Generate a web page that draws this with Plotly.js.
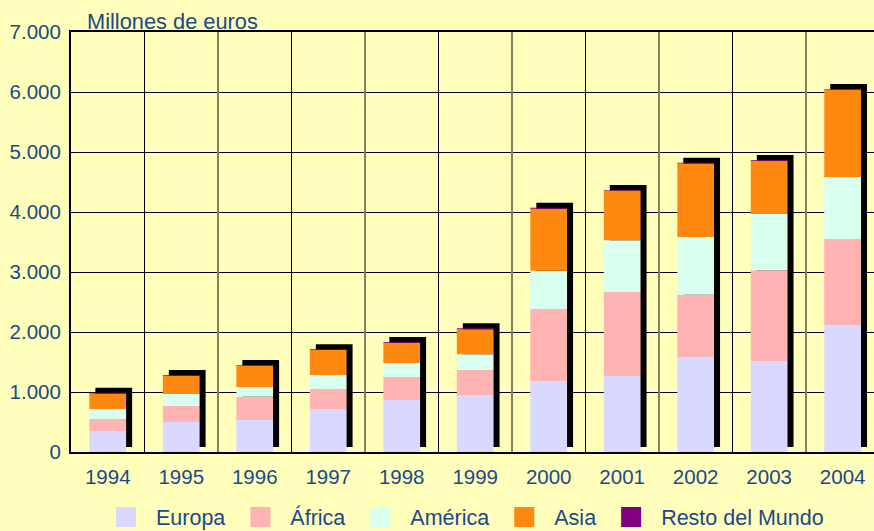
<!DOCTYPE html>
<html>
<head>
<meta charset="utf-8">
<script src="https://cdn.plot.ly/plotly-3.0.1.min.js"></script>
<style>
html,body{margin:0;padding:0;overflow:hidden;background:#FFFFBB;}
#chart{width:874px;height:531px;}
</style>
</head>
<body>
<div id="chart"></div>
<script>
// ---- data (millones de euros) ----
const years   = ['1994','1995','1996','1997','1998','1999','2000','2001','2002','2003','2004'];
const europa  = [350, 500, 535, 715, 865, 950, 1185, 1265, 1585, 1515, 2115];
const africa  = [200, 265, 385, 335, 385, 415, 1200, 1400, 1035, 1515, 1435];
const america = [165, 200, 165, 235, 235, 265,  635,  865,  965,  935, 1035];
const asia    = [260, 305, 355, 415, 335, 415, 1035,  830, 1225,  890, 1455];
const resto   = [ 12,  12,  12,  12,  15,  17,   17,    8,   12,   12,   12];
const seriesNames = ['Europa', 'África', 'América', 'Asia', 'Resto del Mundo'];

// ---- styling ----
const colors = ['#D9D9FF', '#FFB3B3', '#D9FFEE', '#FF8811', '#800080'];
const textColor = '#1A4A88';
const bg = '#FFFFBB';
const font = 'Liberation Sans, Arial, sans-serif';

const W = 874, H = 531;
const mL = 71, mR = 0, mT = 32, mB = 79;
const plotW = W - mL - mR, plotH = H - mT - mB;
const catPx = 73.49;                       // pixel width of one category
const xRange = [-0.5, -0.5 + plotW / catPx];
const yRange = [0, 7000];
const barW = 0.5;
const shadowDx = 6 / catPx;                         // 6 px right
const shadowDy = 5 * (yRange[1] - yRange[0]) / plotH; // 5 px up

const idx = years.map((_, i) => i);
const allSeries = [europa, africa, america, asia, resto];
const totals = idx.map(i => allSeries.reduce((s, arr) => s + arr[i], 0));

const traces = [];
// shadow behind each column
traces.push({
  type: 'bar', x: idx, y: totals, base: idx.map(() => shadowDy),
  width: barW, offset: -barW / 2 + shadowDx,
  marker: {color: '#000000', line: {width: 0}},
  showlegend: false, hoverinfo: 'skip'
});
// stacked segments
let cum = idx.map(() => 0);
allSeries.forEach((vals, k) => {
  traces.push({
    type: 'bar', x: idx, y: vals, base: cum.slice(),
    width: barW, name: seriesNames[k],
    marker: {color: colors[k], line: {width: 0}},
    showlegend: false
  });
  cum = cum.map((c, i) => c + vals[i]);
});
// legend entries
seriesNames.forEach((n, k) => {
  traces.push({
    type: 'scatter', mode: 'markers', x: [null], y: [null], name: n,
    xaxis: 'x2',
    marker: {symbol: 'square', size: 16, color: colors[k], line: {color: colors[k], width: 4}}
  });
});

const blackB = idx.filter(i => i % 2 === 0 && i < years.length - 1).map(i => i + 0.5);
const greyB  = idx.filter(i => i % 2 === 1).map(i => i + 0.5);

const layout = {
  width: W, height: H,
  margin: {l: mL, r: mR, t: mT, b: mB, pad: 0, autoexpand: false},
  paper_bgcolor: bg, plot_bgcolor: bg,
  barmode: 'overlay',
  separators: ',.',
  font: {family: font, size: 20.5, color: textColor},
  title: {
    text: 'Millones de euros',
    font: {family: font, size: 21.8, color: textColor},
    x: 87 / W, xref: 'container', xanchor: 'left',
    y: 1 - 21 / H, yref: 'container', yanchor: 'middle'
  },
  xaxis: {
    type: 'linear', range: xRange, fixedrange: true,
    tickmode: 'array', tickvals: idx, ticktext: years,
    ticks: '', ticklabelstandoff: 5,
    tickfont: {family: font, size: 20.5, color: textColor},
    showgrid: false, zeroline: false,
    showline: true, linecolor: '#000000', linewidth: 2, mirror: true,
    minor: {tickmode: 'array', tickvals: blackB, showgrid: true, gridcolor: '#000000', gridwidth: 1, ticks: ''}
  },
  xaxis2: {
    type: 'linear', overlaying: 'x', anchor: 'y', range: xRange, fixedrange: true,
    tickmode: 'array', tickvals: greyB, showticklabels: false, ticks: '',
    showgrid: true, gridcolor: '#85825C', gridwidth: 2, zeroline: false, showline: false
  },
  yaxis: {
    range: yRange, fixedrange: true, dtick: 1000, tick0: 0, tickformat: ',d',
    ticks: '', ticklabelstandoff: 4,
    tickfont: {family: font, size: 20.5, color: textColor},
    showgrid: true, gridcolor: '#000000', gridwidth: 1, zeroline: false,
    showline: true, linecolor: '#000000', linewidth: 2
  },
  showlegend: true,
  legend: {
    orientation: 'h', traceorder: 'normal',
    xref: 'container', yref: 'container',
    x: 96 / W, xanchor: 'left', y: 1 - 517 / H, yanchor: 'middle',
    itemwidth: 50, bgcolor: 'rgba(0,0,0,0)',
    font: {family: font, size: 21.5, color: textColor}
  }
};

Plotly.newPlot('chart', traces, layout, {displayModeBar: false, staticPlot: true});
</script>
</body>
</html>
